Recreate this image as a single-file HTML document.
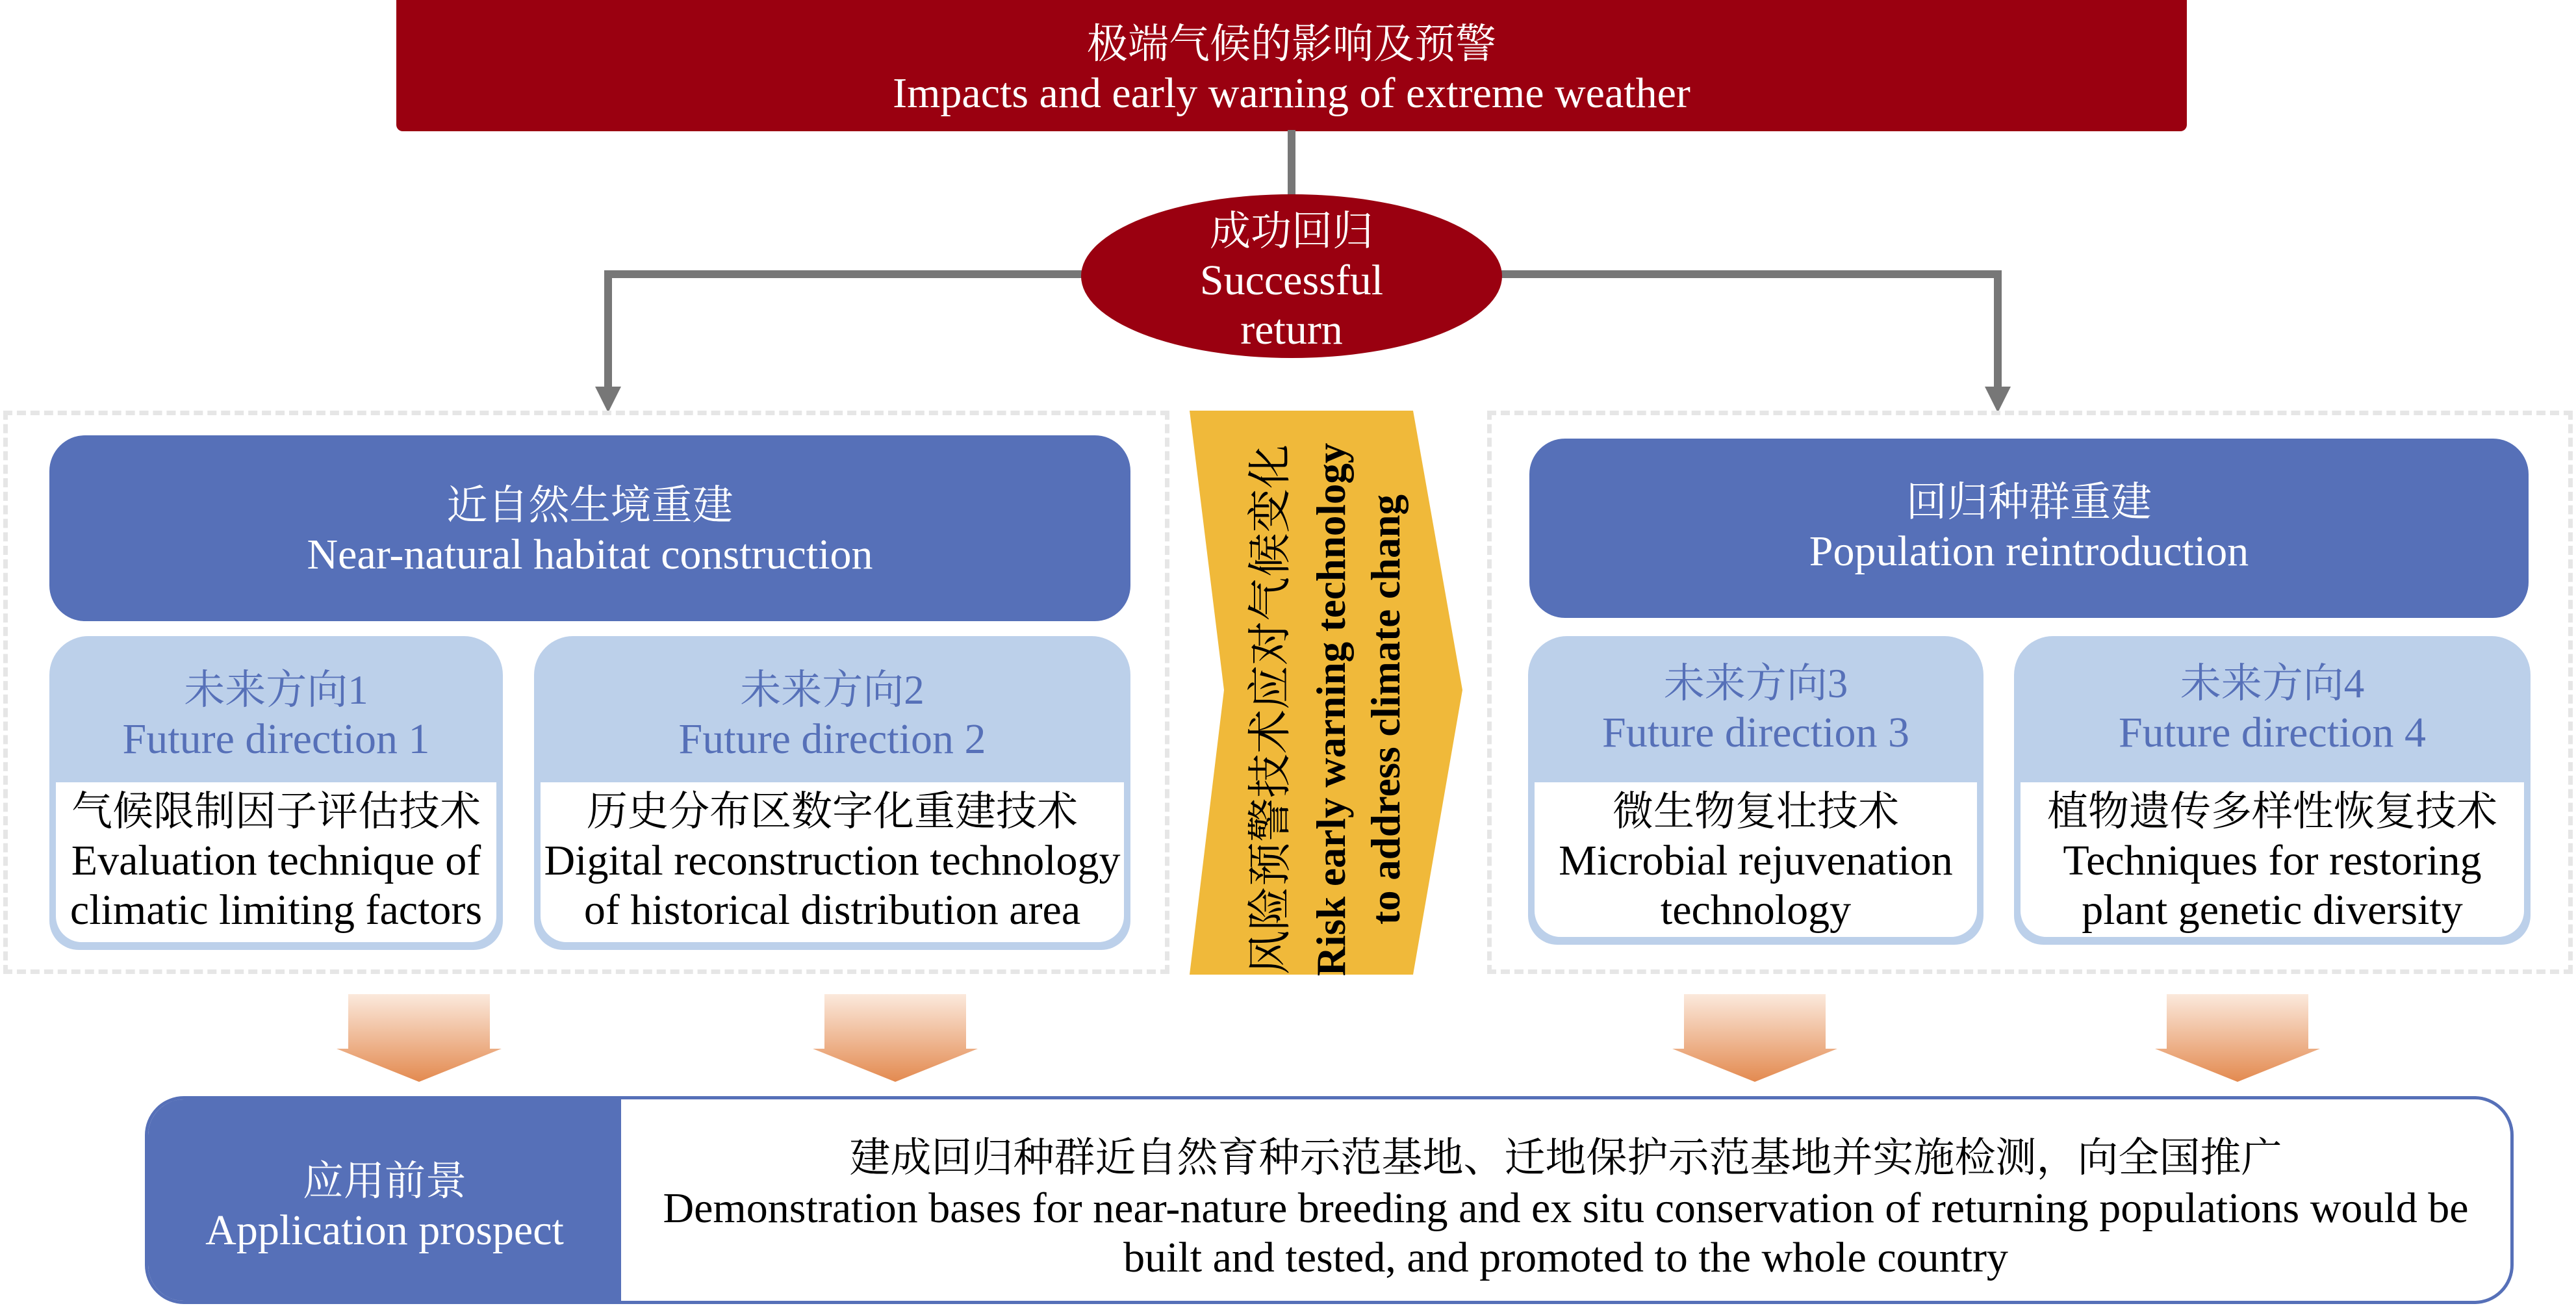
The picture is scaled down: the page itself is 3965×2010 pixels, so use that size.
<!DOCTYPE html>
<html><head><meta charset="utf-8"><style>
body{margin:0;width:3965px;height:2010px;background:#fff;position:relative;overflow:hidden;font-family:"Liberation Serif","Noto Serif CJK SC",serif;}
.a{position:absolute;box-sizing:border-box;}
.t{position:absolute;left:-40px;right:-40px;text-align:center;font-size:66px;line-height:76px;white-space:nowrap;}
.c{font-size:63px;}
.dash{border:7px dashed #e6e6e6;}
.hdr{background:#5670b8;border-radius:55px;color:#fff;}
.dir{background:#bcd0ea;border-radius:60px 60px 45px 45px;}
.dir .in{position:absolute;left:10px;right:10px;bottom:12px;background:#fff;border-radius:0 0 40px 40px;}
.blue{color:#5670b8;}
</style></head><body>
<div class="a" style="left:610px;top:0;width:2756px;height:202px;background:#9a0010;border-radius:0 0 10px 10px;color:#fff;">
<div class="t c" style="top:30px;">极端气候的影响及预警</div>
<div class="t" style="top:106px;">Impacts and early warning of extreme weather</div>
</div>
<svg class="a" style="left:0;top:0" width="3965" height="700">
<g stroke="#777" stroke-width="12" fill="none">
<line x1="1988" y1="200" x2="1988" y2="310"/>
<polyline points="1680,422 936,422 936,600"/>
<polyline points="2300,422 3075,422 3075,600"/>
</g>
<polygon points="916,595 956,595 936,635" fill="#777"/>
<polygon points="3055,595 3095,595 3075,635" fill="#777"/>
<ellipse cx="1988" cy="425" rx="324" ry="126" fill="#9a0010"/>
</svg>
<div class="a" style="left:1664px;top:318px;width:648px;color:#fff;">
<div class="t c" style="top:0;">成功回归</div>
<div class="t" style="top:76px;">Successful</div>
<div class="t" style="top:152px;">return</div>
</div>
<div class="a dash" style="left:5px;top:632px;width:1795px;height:867px;"></div>
<div class="a dash" style="left:2289px;top:632px;width:1671px;height:867px;"></div>
<div class="a hdr" style="left:76px;top:670px;width:1664px;height:286px;">
<div class="t c" style="top:70px;">近自然生境重建</div>
<div class="t" style="top:146px;">Near-natural habitat construction</div>
</div>
<div class="a dir" style="left:76px;top:979px;width:698px;height:483px;">
<div class="in" style="top:225px;"></div>
<div class="t blue c" style="top:45px;">未来方向1</div>
<div class="t blue" style="top:121px;">Future direction 1</div>
<div class="t c" style="top:232px;">气候限制因子评估技术</div>
<div class="t" style="top:308px;">Evaluation technique of</div>
<div class="t" style="top:384px;">climatic limiting factors</div>
</div>
<div class="a dir" style="left:822px;top:979px;width:918px;height:483px;">
<div class="in" style="top:225px;"></div>
<div class="t blue c" style="top:45px;">未来方向2</div>
<div class="t blue" style="top:121px;">Future direction 2</div>
<div class="t c" style="top:232px;">历史分布区数字化重建技术</div>
<div class="t" style="top:308px;">Digital reconstruction technology</div>
<div class="t" style="top:384px;">of historical distribution area</div>
</div>
<div class="a hdr" style="left:2354px;top:675px;width:1538px;height:276px;">
<div class="t c" style="top:60px;">回归种群重建</div>
<div class="t" style="top:136px;">Population reintroduction</div>
</div>
<div class="a dir" style="left:2352px;top:979px;width:701px;height:475px;">
<div class="in" style="top:225px;"></div>
<div class="t blue c" style="top:35px;">未来方向3</div>
<div class="t blue" style="top:111px;">Future direction 3</div>
<div class="t c" style="top:232px;">微生物复壮技术</div>
<div class="t" style="top:308px;">Microbial rejuvenation</div>
<div class="t" style="top:384px;">technology</div>
</div>
<div class="a dir" style="left:3100px;top:979px;width:795px;height:475px;">
<div class="in" style="top:225px;"></div>
<div class="t blue c" style="top:35px;">未来方向4</div>
<div class="t blue" style="top:111px;">Future direction 4</div>
<div class="t c" style="top:232px;">植物遗传多样性恢复技术</div>
<div class="t" style="top:308px;">Techniques for restoring</div>
<div class="t" style="top:384px;">plant genetic diversity</div>
</div>
<svg class="a" style="left:0;top:0" width="3965" height="2010">
<defs><linearGradient id="g" x1="0" y1="0" x2="0" y2="1">
<stop offset="0" stop-color="#fbe9dc"/><stop offset="1" stop-color="#e38a50"/></linearGradient></defs>
<polygon points="1831,632 2175,632 2251,1062 2175,1500 1831,1500 1884,1062" fill="#f0b93a"/>
<g fill="url(#g)">
<polygon points="536,1530 754,1530 754,1614 772,1614 645,1665 518,1614 536,1614"/>
<polygon points="1269,1530 1487,1530 1487,1614 1505,1614 1378,1665 1251,1614 1269,1614"/>
<polygon points="2592,1530 2810,1530 2810,1614 2828,1614 2701,1665 2574,1614 2592,1614"/>
<polygon points="3335,1530 3553,1530 3553,1614 3571,1614 3444,1665 3317,1614 3335,1614"/>
</g>
<g text-anchor="middle" font-family="Liberation Serif, Noto Serif CJK SC, serif">
<text transform="translate(1978,1092) rotate(-90)" font-size="68">风险预警技术应对气候变化</text>
<text transform="translate(2070,1092) rotate(-90)" font-weight="bold" font-size="63">Risk early warning technology</text>
<text transform="translate(2154,1092) rotate(-90)" font-weight="bold" font-size="63">to address climate chang</text>
</g>
</svg>
<div class="a" style="left:223px;top:1687px;width:3646px;height:320px;border:5px solid #5670b8;border-radius:60px;overflow:hidden;">
<div class="a" style="left:0;top:0;width:728px;height:100%;background:#5670b8;color:#fff;">
<div class="t c" style="top:88px;">应用前景</div>
<div class="t" style="top:164px;">Application prospect</div>
</div>
<div class="a" style="left:728px;top:0;right:0;height:100%;">
<div class="t c" style="top:52px;">建成回归种群近自然育种示范基地、迁地保护示范基地并实施检测，向全国推广</div>
<div class="t" style="top:130px;">Demonstration bases for near-nature breeding and ex situ conservation of returning populations would be</div>
<div class="t" style="top:206px;">built and tested, and promoted to the whole country</div>
</div>
</div>
</body></html>
